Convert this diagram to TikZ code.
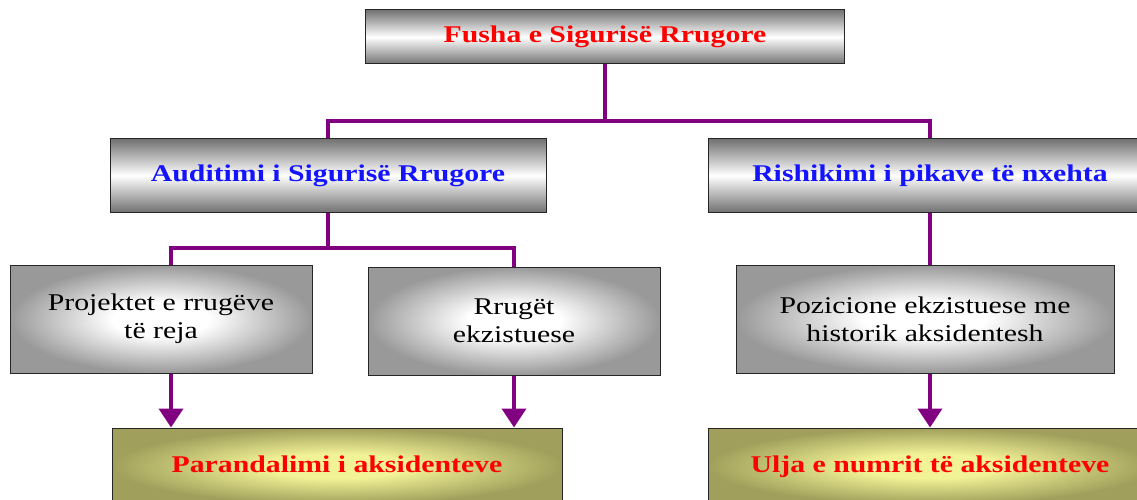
\documentclass[tikz,border=0pt]{standalone}
\usepackage{fontspec}
\setmainfont[FakeStretch=1.24]{Liberation Serif}
\usetikzlibrary{arrows.meta,positioning}

\definecolor{linkpurple}{RGB}{128,0,128}
\definecolor{headred}{RGB}{255,0,0}
\definecolor{headblue}{RGB}{20,20,255}
\definecolor{oliveedge}{RGB}{160,160,92}
\definecolor{olivecore}{RGB}{242,242,150}
\pgfdeclareradialshading{grayglow}{\pgfpoint{0bp}{0bp}}{color(0bp)=(white); color(8bp)=(white); color(25bp)=(black!40); color(50bp)=(black!40)}
\pgfdeclareradialshading{oliveglow}{\pgfpoint{0bp}{0bp}}{color(0bp)=(olivecore); color(8bp)=(olivecore); color(25bp)=(oliveedge); color(50bp)=(oliveedge)}

\tikzset{
  box/.style={draw=black!85, line width=1pt, inner sep=0pt, align=center,
    font=\fontsize{24}{28}\selectfont},
  headbox/.style={box, top color=black!55, bottom color=black!55, middle color=white,
    text height=17pt, text depth=5pt,
    font=\bfseries\fontsize{24}{28}\selectfont},
  midbox/.style={box, shading=grayglow},
  goalbox/.style={box, shading=oliveglow, text=headred,
    text height=17pt, text depth=5pt,
    font=\bfseries\fontsize{24}{28}\selectfont},
  link/.style={draw=linkpurple, line width=4pt},
  flow/.style={link, -{Triangle[width=24pt,length=19pt]}}
}

\begin{document}
\begin{tikzpicture}[x=1pt, y=1pt]
  \useasboundingbox (0,0) rectangle (1137,499);

  % levels
  \node[headbox, text=headred, minimum width=479pt, minimum height=54pt]  (field) at (605,462)   {Fusha e Sigurisë Rrugore};
  \node[headbox, text=headblue, minimum width=436pt, minimum height=73pt] (audit) at (328,323.5) {Auditimi i Sigurisë Rrugore};
  \node[headbox, text=headblue, minimum width=444pt, minimum height=73pt] (review) at (930,323.5) {Rishikimi i pikave të nxehta};

  \node[midbox, minimum width=302pt, minimum height=108pt] (newroads) at (161,180) {Projektet e rrugëve\\të reja};
  \node[midbox, minimum width=292pt, minimum height=108pt] (oldroads) at (514,178) {Rrugët\\ekzistuese};
  \node[midbox, minimum width=378pt, minimum height=108pt] (spots)    at (925,180) {Pozicione ekzistuese me\\historik aksidentesh};

  \node[goalbox, minimum width=450pt, minimum height=76pt] (prevent) at (337,33) {Parandalimi i aksidenteve};
  \node[goalbox, minimum width=444pt, minimum height=76pt] (reduce)  at (930,33) {Ulja e numrit të aksidenteve};

  % connectors
  \draw[link] (field.south) -- ++(0,-57) coordinate (fork1);
  \draw[link] (audit.north) |- (fork1) -| (review.north);
  \draw[link] (audit.south) -- ++(0,-35) coordinate (fork2);
  \draw[link] ([xshift=10pt]newroads.north) |- (fork2) -| (oldroads.north);
  \draw[link] (review.south) -- (review.south |- spots.north);

  \draw[flow] ([xshift=10pt]newroads.south) -- ([xshift=10pt]newroads.south |- prevent.north);
  \draw[flow] (oldroads.south) -- (oldroads.south |- prevent.north);
  \draw[flow] (spots.south -| reduce.north) -- (reduce.north);
\end{tikzpicture}
\end{document}
